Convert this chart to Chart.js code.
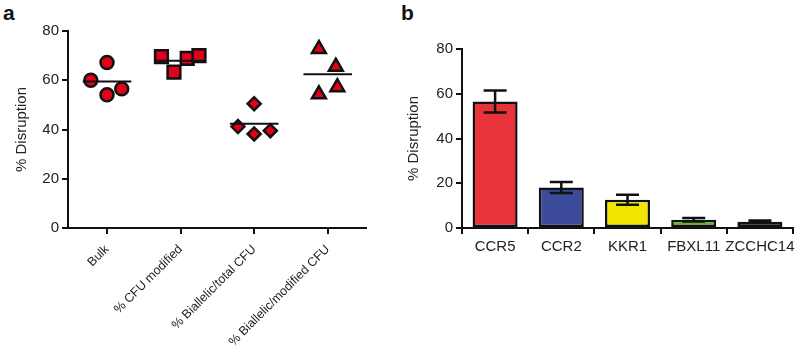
<!DOCTYPE html>
<html>
<head>
<meta charset="utf-8">
<script src="https://cdn.jsdelivr.net/npm/chart.js@4"></script>
<style>
    body { margin: 0; background: #fff; width: 800px; height: 349px; overflow: hidden; position: relative; font-family: "Liberation Sans", Arial, sans-serif; }
    canvas { position: absolute; top: 0; }
    .letra { position: absolute; top: 3px; font-size: 21px; line-height: 20px; font-weight: bold; color: #111; }
</style>
</head>
<body>
<div class="letra" style="left:3px">a</div>
<div class="letra" style="left:401px">b</div>
<canvas id="chartA" width="380" height="349" style="left:0"></canvas>
<canvas id="chartB" width="420" height="349" style="left:380px"></canvas>
<script>
// painel a - pontos individuais
var grupos = ['Bulk', '% CFU modified', '% Biallelic/total CFU', '% Biallelic/modified CFU'];
var bulk = [60.0, 67.2, 54.1, 56.5];
var cfuModificado = [69.6, 63.3, 68.9, 70.0];
var bialelicoTotal = [41.2, 50.5, 38.2, 39.5];
var bialelicoModificado = [72.7, 65.5, 54.3, 57.2];
// deslocamento dos pontos dentro da coluna (em unidades de categoria)
var espalhamento = [
    [-0.22, 0, 0, 0.2],
    [-0.26, -0.09, 0.09, 0.25],
    [-0.22, 0, 0, 0.22],
    [-0.12, 0.11, -0.12, 0.13]
];

// painel b - barras
var genes = ['CCR5', 'CCR2', 'KKR1', 'FBXL11', 'ZCCHC14'];
var disrupcao = [56.5, 18.1, 12.6, 3.7, 2.8];
var erro = [4.9, 2.5, 2.25, 0.8, 0.5];

var corTexto = '#222';
var corLinha = '#111';
var vermelho = '#e3001b';
var simbolos = ['circle', 'rect', 'rectRot', 'triangle'];
var raios = [6.5, 9, 6.5, 8];
var series = [bulk, cfuModificado, bialelicoTotal, bialelicoModificado];

var datasetsA = [];
for (var i = 0; i < series.length; i++) {
    var pontos = [];
    var soma = 0;
    for (var j = 0; j < series[i].length; j++) {
        pontos.push({ x: i + espalhamento[i][j], y: series[i][j] });
        soma += series[i][j];
    }
    var media = soma / series[i].length;
    datasetsA.push({
        label: grupos[i],
        data: pontos,
        pointStyle: simbolos[i],
        pointRadius: raios[i],
        pointBackgroundColor: vermelho,
        pointBorderColor: corLinha,
        pointBorderWidth: 2.5,
        order: 1
    });
    // linha da média
    datasetsA.push({
        label: 'media ' + grupos[i],
        data: [{ x: i - 0.33, y: media }, { x: i + 0.33, y: media }],
        showLine: true,
        pointRadius: 0,
        borderColor: corLinha,
        borderWidth: 2,
        order: 0
    });
}

function eixoBase() {
    return {
        grid: { drawOnChartArea: false, drawTicks: true, tickLength: 6, color: corLinha, lineWidth: 2 },
        border: { color: corLinha, width: 2 }
    };
}

var xA = eixoBase();
xA.type = 'linear';
xA.min = -0.53;
xA.max = 3.52;
xA.afterBuildTicks = function (s) { s.ticks = grupos.map(function (g, k) { return { value: k }; }); };
xA.afterFit = function (s) { s.height = 121; };
xA.ticks = { autoSkip: false, minRotation: 45, maxRotation: 45, padding: 8, color: corTexto, font: { size: 12.5 },
    callback: function (v) { return grupos[v]; } };

var yA = eixoBase();
yA.min = 0;
yA.max = 80;
yA.afterFit = function (s) { s.width = 68; };
yA.ticks = { stepSize: 20, padding: 3, color: corTexto, font: { size: 15 } };
yA.title = { display: true, text: '% Disruption', color: corTexto, font: { size: 15 }, padding: { top: 13, bottom: 0 } };

Chart.defaults.font.family = '"Liberation Sans", Arial, sans-serif';

new Chart(document.getElementById('chartA'), {
    type: 'scatter',
    data: { datasets: datasetsA },
    options: {
        responsive: false,
        animation: false,
        layout: { padding: { left: 0, right: 14, top: 31, bottom: 0 } },
        plugins: { legend: { display: false }, tooltip: { enabled: false } },
        scales: { x: xA, y: yA }
    }
});

// barras de erro desenhadas por cima das barras
var barrasErro = {
    id: 'barrasErro',
    afterDatasetsDraw: function (chart) {
        var ctx = chart.ctx;
        var meta = chart.getDatasetMeta(0);
        var y = chart.scales.y;
        ctx.save();
        ctx.strokeStyle = corLinha;
        ctx.lineWidth = 2.5;
        for (var k = 0; k < meta.data.length; k++) {
            var cx = meta.data[k].x;
            var alto = y.getPixelForValue(disrupcao[k] + erro[k]);
            var baixo = y.getPixelForValue(disrupcao[k] - erro[k]);
            ctx.beginPath();
            ctx.moveTo(cx, alto); ctx.lineTo(cx, baixo);
            ctx.moveTo(cx - 11.5, alto); ctx.lineTo(cx + 11.5, alto);
            ctx.moveTo(cx - 11.5, baixo); ctx.lineTo(cx + 11.5, baixo);
            ctx.stroke();
        }
        ctx.restore();
    }
};

var xB = eixoBase();
xB.afterFit = function (s) { s.height = 121; };
xB.ticks = { padding: 4, minRotation: 0, maxRotation: 0, autoSkip: false, color: corTexto, font: { size: 15 } };

var yB = eixoBase();
yB.min = 0;
yB.max = 80;
yB.afterFit = function (s) { s.width = 82; };
yB.ticks = { stepSize: 20, padding: 3, color: corTexto, font: { size: 15 } };
yB.title = { display: true, text: '% Disruption', color: corTexto, font: { size: 15 }, padding: { top: 24.5, bottom: 0 } };

new Chart(document.getElementById('chartB'), {
    type: 'bar',
    data: {
        labels: genes,
        datasets: [{
            label: '% Disruption',
            data: disrupcao,
            backgroundColor: ['#e8333b', '#3b4a9b', '#f2e600', '#62b432', '#7b2b8c'],
            borderColor: corLinha,
            borderWidth: 2.5,
            borderSkipped: false,
            barPercentage: 0.68,
            categoryPercentage: 1
        }]
    },
    options: {
        responsive: false,
        animation: false,
        layout: { padding: { left: 0, right: 7, top: 49, bottom: 0 } },
        plugins: { legend: { display: false }, tooltip: { enabled: false } },
        scales: { x: xB, y: yB }
    },
    plugins: [barrasErro]
});
</script>
</body>
</html>
